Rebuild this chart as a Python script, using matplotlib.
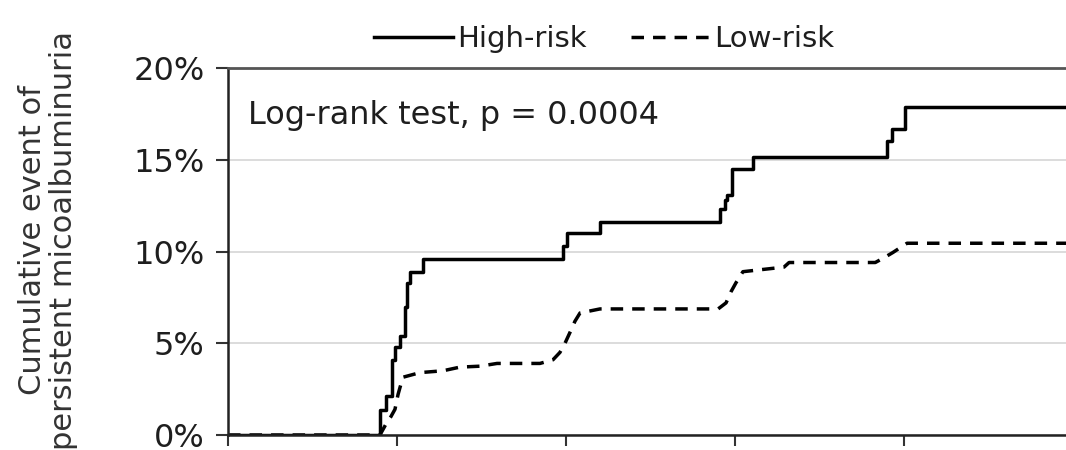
import matplotlib
matplotlib.use("Agg")
import matplotlib.pyplot as plt
from matplotlib.ticker import PercentFormatter

# cumulative incidence (%) at each event time (years)
high_time = [0, 0.899, 0.935, 0.970, 0.988, 1.018, 1.047, 1.062, 1.077, 1.154,
             1.982, 2.006, 2.201, 2.911, 2.941, 2.953, 2.982, 3.107,
             3.899, 3.929, 4.006, 5.0]
high_pct = [0, 1.36, 2.1, 4.1, 4.8, 5.4, 7.0, 8.3, 8.9, 9.6,
            10.3, 11.0, 11.6, 12.3, 12.8, 13.1, 14.5, 15.15,
            16.0, 16.7, 17.9, 17.9]

low_time = [0, 0.899, 0.923, 0.941, 0.964, 0.988, 1.006, 1.018, 1.036, 1.136,
            1.272, 1.373, 1.491, 1.592, 1.846, 1.923, 1.964, 1.994, 2.024, 2.053,
            2.083, 2.201, 2.900, 2.947, 2.976, 3.006, 3.047, 3.290, 3.320,
            3.830, 3.880, 3.935, 3.976, 4.018, 5.0]
low_pct = [0, 0.0, 0.4, 0.7, 1.0, 1.4, 2.2, 2.6, 3.15, 3.4,
           3.5, 3.7, 3.75, 3.9, 3.9, 4.1, 4.5, 5.0, 5.6, 6.2,
           6.65, 6.87, 6.87, 7.2, 7.8, 8.3, 8.9, 9.15, 9.4,
           9.4, 9.65, 9.95, 10.2, 10.45, 10.45]

y_ticks = [0, 5, 10, 15, 20]
x_ticks = [0, 1, 2, 3, 4, 5]

plt.rcParams["font.family"] = "DejaVu Sans"
txt = "#1e1e1e"

fig = plt.figure(figsize=(10.66, 4.5), dpi=100)
ax = fig.add_axes([228 / 1066, 15 / 450, 845 / 1066, 367 / 450])

ax.plot(high_time, high_pct, drawstyle="steps-post", color="black", lw=2.5,
        label="High-risk")
# low-risk events are dense, so the curve is drawn point to point
ax.plot(low_time, low_pct, color="black", lw=2.5,
        dashes=(3.6, 2.6), label="Low-risk")

ax.set_xlim(0, 5)
ax.set_ylim(0, 20)
ax.set_yticks(y_ticks)
ax.set_xticks(x_ticks)
ax.set_xticklabels([])
ax.yaxis.set_major_formatter(PercentFormatter(decimals=0))
ax.tick_params(axis="y", direction="out", length=9, width=1.5, pad=8,
               labelsize=23, labelcolor=txt, color="#333333")
ax.tick_params(axis="x", direction="out", length=8, width=1.5, color="#333333")

ax.grid(axis="y", color="#d9d9d9", lw=1.3)
ax.set_axisbelow(True)
for side in ["left", "bottom"]:
    ax.spines[side].set_linewidth(1.8)
    ax.spines[side].set_color("#222222")
ax.spines["top"].set_linewidth(2)
ax.spines["top"].set_color("#555555")
ax.spines["right"].set_visible(False)

# y label placed on the figure so its two long lines fit the full height
fig.text(48 / 1066, 1 - 240 / 450, "Cumulative event of\npersistent micoalbuminuria",
         rotation=90, fontsize=22, color="#333333", ha="center", va="center",
         linespacing=1.05, multialignment="center")

ax.text(0.12, 17.4, "Log-rank test, p = 0.0004", fontsize=23, color=txt,
        va="center", ha="left")

leg = ax.legend(loc="lower center", bbox_to_anchor=(0.445, 1.0), ncol=2,
                frameon=False, fontsize=21, handlelength=2.7, handletextpad=0.15,
                columnspacing=1.5, borderaxespad=0.1)
for t in leg.get_texts():
    t.set_color(txt)

fig.savefig("out.png", dpi=100)
